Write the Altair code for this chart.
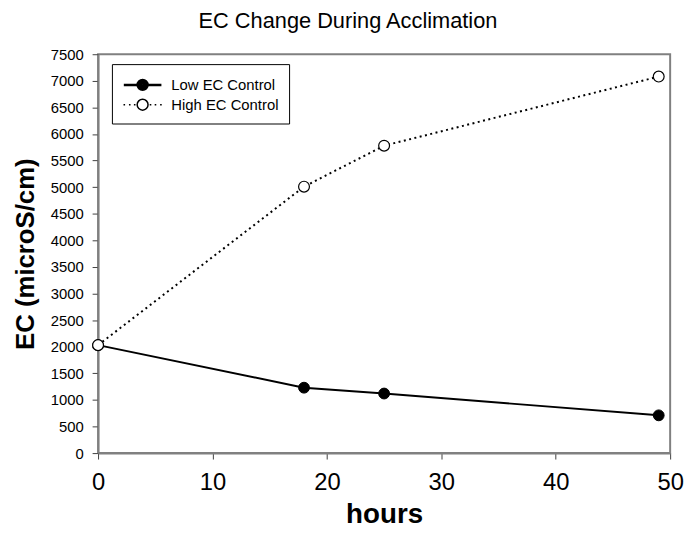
import altair as alt
import pandas as pd

# ---- data ----
hours = [0, 18, 25, 49]
low_ec = [2030, 1230, 1120, 710]
high_ec = [2030, 5010, 5780, 7080]
series_names = ["Low EC Control", "High EC Control"]
y_ticks = list(range(0, 7501, 500))
x_ticks = [0, 10, 20, 30, 40, 50]

rows = []
for h, v in zip(hours, low_ec):
    rows.append({"hours": h, "EC": v, "series": series_names[0]})
for h, v in zip(hours, high_ec):
    rows.append({"hours": h, "EC": v, "series": series_names[1]})
df = pd.DataFrame(rows)

FONT = "Liberation Sans"

# legend symbols: line + circle as custom paths (unit = 10px at symbol size 400),
# centred one unit to the right of the nominal symbol box
CX = 1.0


def ring(r):
    return "M%.2f,0A%.2f,%.2f,0,1,0,%.2f,0A%.2f,%.2f,0,1,0,%.2f,0Z" % (
        CX - r, r, r, CX + r, r, r, CX - r)


def seg(a, b, yy=0.0):
    return "M%.2f,%.2fL%.2f,%.2f" % (CX + a, yy, CX + b, yy)


# solid line (doubled for weight) + filled disc (concentric rings)
path_low = (seg(-1.9, -0.55, -0.05) + seg(0.55, 1.9, -0.05)
            + seg(-1.9, -0.55, 0.05) + seg(0.55, 1.9, 0.05)
            + "".join(ring(r) for r in [0.55, 0.45, 0.35, 0.25, 0.15, 0.06]))
# dotted line + open circle
path_high = "".join(seg(c - 0.08, c + 0.08) for c in [-1.85, -1.3, -0.8, 0.8, 1.3, 1.85]) + ring(0.55)

x_enc = alt.X(
    "hours:Q",
    scale=alt.Scale(domain=[0, 50], nice=False),
    axis=alt.Axis(values=x_ticks, title="hours", labelFontSize=24, tickSize=6,
                  labelPadding=12, titleFontSize=28, titlePadding=6, format="d",
                  labelFlush=False),
)
y_enc = alt.Y(
    "EC:Q",
    scale=alt.Scale(domain=[0, 7500], nice=False),
    axis=alt.Axis(values=y_ticks, title="EC (microS/cm)", labelFontSize=15, tickSize=6,
                  labelPadding=9, titleFontSize=26, titlePadding=12, format="d",
                  labelFlush=False),
)

base = alt.Chart(df)
low_data = base.transform_filter(alt.datum.series == series_names[0])
high_data = base.transform_filter(alt.datum.series == series_names[1])

line_low = low_data.mark_line(color="black", strokeWidth=2, strokeCap="butt").encode(x=x_enc, y=y_enc)
line_high = high_data.mark_line(
    color="black", strokeWidth=2, strokeCap="butt", strokeDash=[2, 3.5]
).encode(x=x_enc, y=y_enc)

pts_low = low_data.mark_point(
    shape="circle", filled=True, fill="black", stroke="black", strokeWidth=1, size=120, opacity=1
).encode(x=x_enc, y=y_enc)

pts_high = high_data.mark_point(
    shape="circle", filled=True, fill="white", stroke="black", strokeWidth=1.2, size=120, opacity=1
).encode(x=x_enc, y=y_enc)

leg = alt.Legend(
    title=None,
    orient="none",
    legendX=14,
    legendY=10,
    strokeColor="black",
    fillColor="white",
    padding=10,
    rowPadding=0,
    labelFont=FONT,
    labelFontSize=15,
    labelColor="black",
    labelOffset=28,
    labelExpr="datum.label + '\u00a0\u00a0\u00a0'",
    symbolSize=400,
    symbolStrokeColor="black",
    symbolStrokeWidth=1.5,
    symbolOpacity=1,
    labelLimit=300,
)

# legend-only layer: no rows survive the filter, the legend comes from the shape scale domain
legend_layer = base.transform_filter("datum.hours < -1000").mark_point(
    filled=False, color="black", strokeWidth=1.5, size=400, opacity=1
).encode(
    x=x_enc,
    y=y_enc,
    shape=alt.Shape(
        "series:N",
        scale=alt.Scale(domain=series_names, range=[path_low, path_high]),
        legend=leg,
    ),
)

chart = (
    alt.layer(line_low, line_high, pts_low, pts_high, legend_layer)
    .properties(
        width=578,
        height=403,
        padding={"left": 4, "top": 0, "right": 0, "bottom": 0},
        title=alt.Title(
            "EC Change During Acclimation",
            fontSize=22,
            fontWeight="normal",
            font=FONT,
            color="black",
            anchor="middle",
            frame="bounds",
            offset=14,
        ),
    )
    .configure_view(stroke="#808080", strokeWidth=2)
    .configure_axis(
        grid=False,
        domainColor="#808080",
        domainWidth=2,
        tickColor="#404040",
        tickWidth=1,
        labelColor="black",
        titleColor="black",
        labelFont=FONT,
        titleFont=FONT,
        titleFontWeight="bold",
    )
)

chart.save("out.html", embed_options={"renderer": "svg", "actions": False})
